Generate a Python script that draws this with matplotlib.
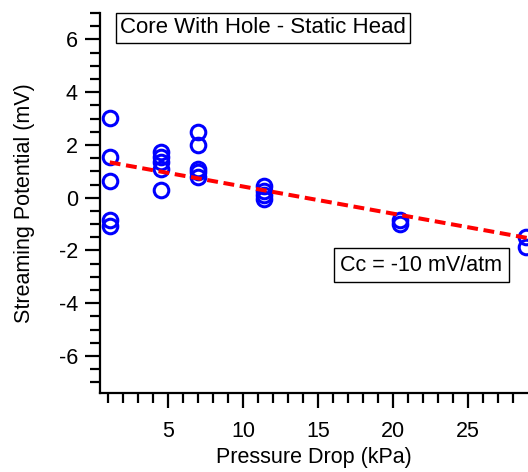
import matplotlib.pyplot as plt

# data (Igor-style plot)
pressure = [1.1, 1.1, 1.1, 1.1, 1.1,
            4.55, 4.55, 4.55, 4.55, 4.55,
            7.0, 7.0, 7.0, 7.0, 7.0,
            11.4, 11.4, 11.4, 11.4,
            20.45, 20.45,
            28.85, 28.85]
potential = [3.02, 1.54, 0.63, -0.85, -1.07,
             1.75, 1.55, 1.35, 1.1, 0.28,
             2.5, 2.0, 1.1, 0.97, 0.8,
             0.44, 0.27, 0.1, -0.05,
             -0.85, -1.0,
             -1.47, -1.86]

fit_x = [1.1, 29.0]
fit_y = [1.34, -1.53]

title_text = "Core With Hole - Static Head"
coef_text = "Cc = -10 mV/atm"

plt.rcParams['font.family'] = ['Liberation Sans', 'DejaVu Sans']
plt.rcParams['axes.unicode_minus'] = False

fs = 15.5

fig = plt.figure(figsize=(5.28, 4.72), dpi=100)
ax = fig.add_axes([100 / 528, 79 / 472, 428 / 528, 380 / 472])

ax.plot(pressure, potential, 'o', mfc='none', mec='#0000ff', mew=2.2, ms=10.5,
        clip_on=False, zorder=3)
ax.plot(fit_x, fit_y, color='#ff0000', lw=2.9, ls=(0, (2.7, 1.4)), zorder=4,
        clip_on=False)

ax.set_xlim(0.45, 29.0)
ax.set_ylim(-7.4, 7.0)
ax.set_xticks([5, 10, 15, 20, 25])
ax.set_xticks(range(1, 29), minor=True)
ax.set_yticks([-6, -4, -2, 0, 2, 4, 6])
ax.set_yticks([v / 2 for v in range(-14, 15)], minor=True)

for side in ['top', 'right']:
    ax.spines[side].set_visible(False)
for side in ['left', 'bottom']:
    ax.spines[side].set_linewidth(1.6)

ax.tick_params(which='major', direction='out', length=11, width=1.6,
               labelsize=fs)
ax.tick_params(axis='x', which='major', pad=9)
ax.tick_params(axis='y', which='major', pad=5)
ax.tick_params(which='minor', direction='out', length=7, width=1.6)

ax.set_xlabel("Pressure Drop (kPa)", fontsize=fs)
ax.set_ylabel("Streaming Potential (mV)", fontsize=fs)
ax.xaxis.set_label_coords(0.5, -0.143)
ax.yaxis.set_label_coords(-0.152, 0.5)

ax.text(0.047, 0.961, title_text, transform=ax.transAxes, fontsize=16,
        ha='left', va='center',
        bbox=dict(boxstyle='square,pad=0.2', fc='white', ec='black', lw=1))
ax.text(0.751, 0.336, coef_text, transform=ax.transAxes, fontsize=fs,
        ha='center', va='center',
        bbox=dict(boxstyle='square,pad=0.3', fc='white', ec='black', lw=1))

fig.savefig('out.png', dpi=100)
